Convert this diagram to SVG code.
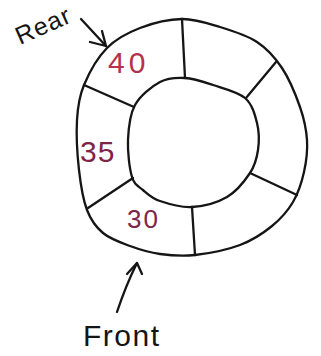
<svg xmlns="http://www.w3.org/2000/svg" width="321" height="356" viewBox="0 0 321 356">
<style>
.ln{fill:none;stroke:#151515;stroke-width:2.3;stroke-linecap:round;stroke-linejoin:round}
.num{font-family:"Liberation Sans",Arial,sans-serif;fill:#7d2447}
.lbl{font-family:"Liberation Sans",Arial,sans-serif;fill:#151515}
</style>
<rect width="321" height="356" fill="#ffffff"/>
<g id="ring">
<path class="ln" d="M182,19 C195.3,18.8 207.5,23.2 220,27 C232.5,30.8 246.7,35.2 257,42 C267.3,48.8 274.8,57.2 282,68 C289.2,78.8 295.8,95 300,107 C304.2,119 306.3,129.2 307,140 C307.7,150.8 306.3,161.7 304,172 C301.7,182.3 298.3,193 293,202 C287.7,211 280.8,218.8 272,226 C263.2,233.2 252.8,240.2 240,245 C227.2,249.8 208.3,253.5 195,255 C181.7,256.5 170.8,255.5 160,254 C149.2,252.5 139.5,249.5 130,246 C120.5,242.5 110.2,239 103,233 C95.8,227 91,220.5 87,210 C83,199.5 80.7,185 79,170 C77.3,155 76.2,134.2 77,120 C77.8,105.8 79,97 84,85 C89,73 97.7,57.5 107,48 C116.3,38.5 127.5,32.8 140,28 C152.5,23.2 168.7,19.2 182,19 Z"/>
<path class="ln" d="M185,78 C193.8,78.5 203,81.7 213,85 C223,88.3 237.7,91.7 245,98 C252.3,104.3 254.8,114.3 257,123 C259.2,131.7 259.2,141.7 258,150 C256.8,158.3 255.2,165.2 250,173 C244.8,180.8 236.7,191.3 227,197 C217.3,202.7 203.2,206.3 192,207 C180.8,207.7 168.2,203.8 160,201 C151.8,198.2 147.7,194 143,190 C138.3,186 134.5,185.3 132,177 C129.5,168.7 127.5,152 128,140 C128.5,128 129.7,114.7 135,105 C140.3,95.3 151.7,86.5 160,82 C168.3,77.5 176.2,77.5 185,78 Z"/>
</g>
<g id="dividers">
<path class="ln" d="M182,19 L185,78"/>
<path class="ln" d="M246,98 L276,62"/>
<path class="ln" d="M250,173 L297,195"/>
<path class="ln" d="M192,207 L195,255"/>
<path class="ln" d="M133,178 L88,208"/>
<path class="ln" d="M84,85 L134,107"/>
</g>
<g id="cell-40"><text class="num" x="108" y="73" font-size="30" letter-spacing="4" style="fill:#b0334f">40</text></g>
<g id="cell-35"><text class="num" x="80" y="162" font-size="30" letter-spacing="1">35</text></g>
<g id="cell-30"><text class="num" x="127" y="228" font-size="26" letter-spacing="2">30</text></g>
<g id="rear"><text class="lbl" x="20" y="45" font-size="25" letter-spacing="1" transform="rotate(-24 20 45)">Rear</text></g>
<g id="front"><text class="lbl" x="83" y="346" font-size="30" letter-spacing="1.5">Front</text></g>
<g id="connectors">
<path class="ln" d="M81,19 L106,46"/>
<path class="ln" d="M90,42 L106,46 L102,31"/>
<path class="ln" d="M117,312 Q126,285 137,263"/>
<path class="ln" d="M127,274 L137,263 L142,274"/>
</g>
</svg>
